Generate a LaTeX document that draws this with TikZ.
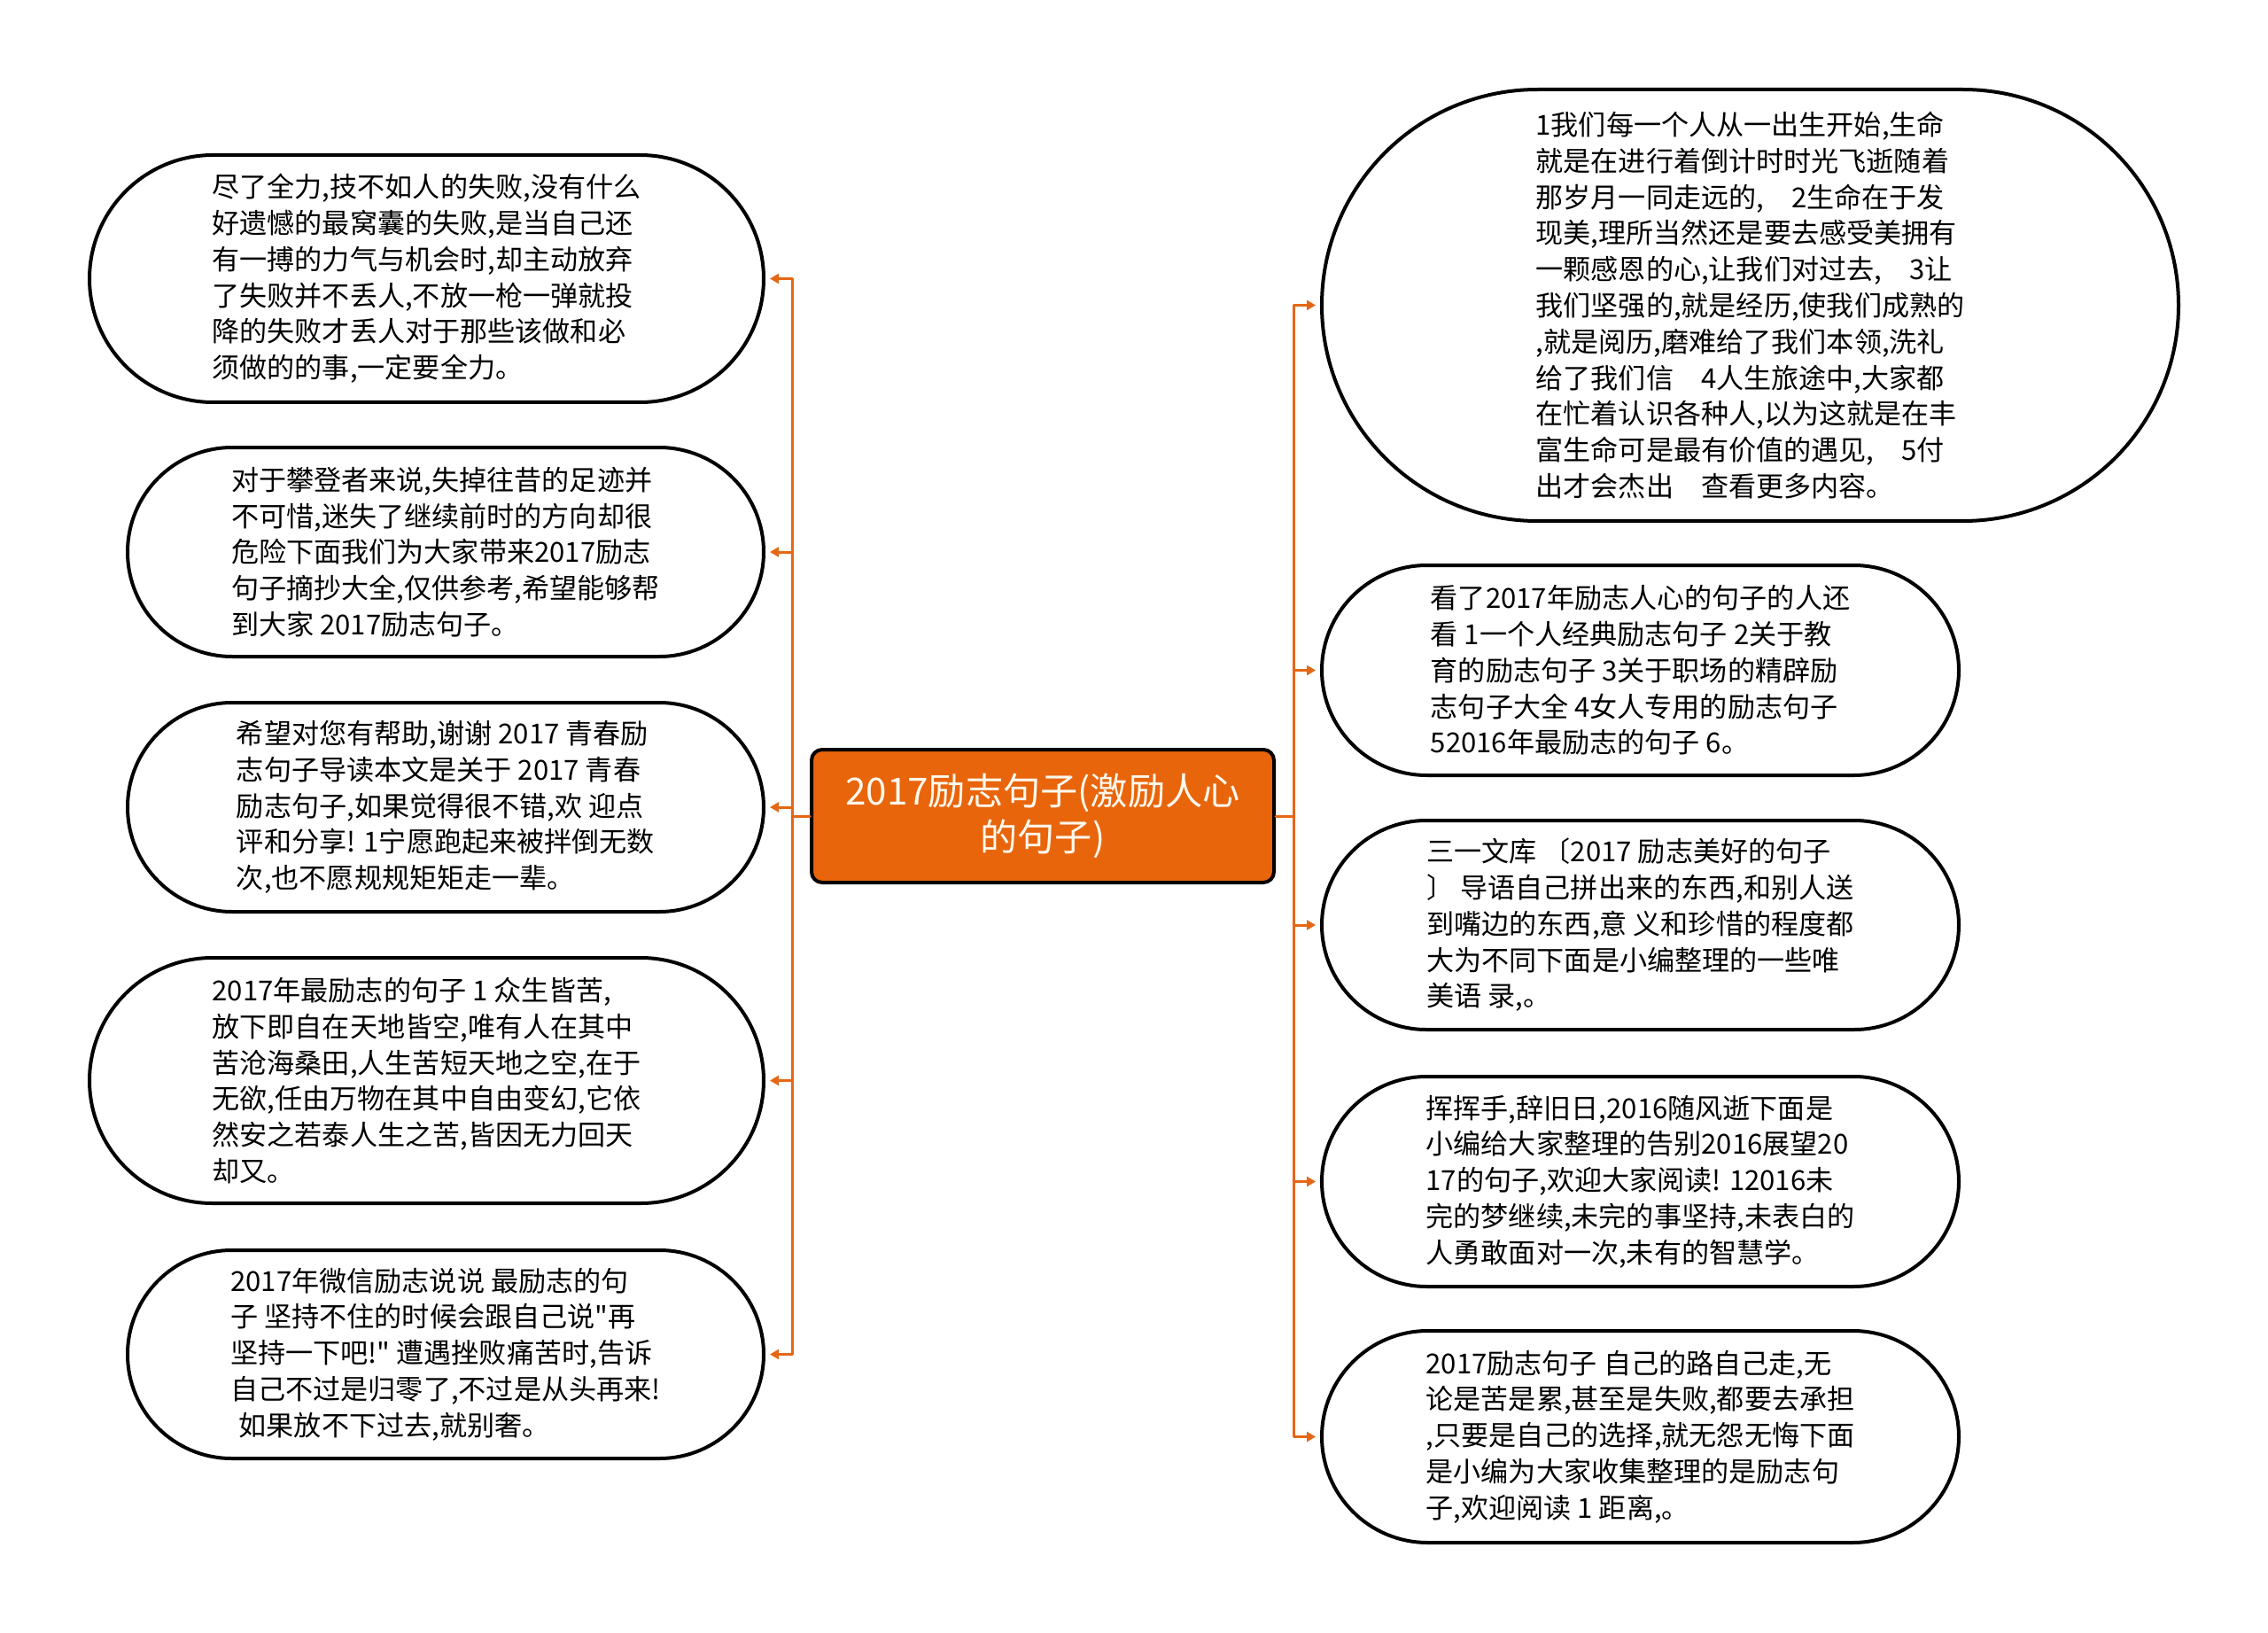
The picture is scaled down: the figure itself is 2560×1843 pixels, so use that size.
\documentclass[tikz,border=0pt]{standalone}
\usepackage{fontspec}
\newfontfamily\cjk{Noto Sans CJK SC}
\usepackage{tikz}
\usetikzlibrary{arrows.meta,shapes.misc}

\definecolor{hubfill}{RGB}{232,101,12}
\definecolor{hubtext}{RGB}{255,248,236}
\definecolor{linkcol}{RGB}{229,103,20}

\begin{document}
\begin{tikzpicture}[x=0.1mm, y=-0.1mm, line cap=round, line join=round,
    >={Triangle[length=1mm,width=1.1mm]},
    leaf/.style={rounded rectangle, draw=black, line width=0.4mm, fill=white,
      align=left, inner sep=0pt, font=\cjk\fontsize{8.85}{11.6}\selectfont},
    hub/.style={rectangle, rounded corners=1.2mm, draw=black, line width=0.4mm,
      fill=hubfill, text=hubtext, align=center,
      minimum width=52.2mm, minimum height=15mm,
      font=\cjk\fontsize{12}{15}\selectfont},
    link/.style={draw=linkcol, line width=0.3mm}]
  % Page frame, same proportions as the reference.
  \useasboundingbox (0,0) rectangle (2560,1843);

  % Central topic.
  \node[hub] (hub) at (1177,921) {2017励志句子(激励人心\\的句子)};

  % Left branch.
  \node[leaf, minimum width=76.1mm, minimum height=27.9mm] (l1) at (481.5,314.5)
    {尽了全力,技不如人的失败,没有什么\\好遗憾的最窝囊的失败,是当自己还\\有一搏的力气与机会时,却主动放弃\\了失败并不丢人,不放一枪一弹就投\\降的失败才丢人对于那些该做和必\\须做的的事,一定要全力。};
  \node[leaf, minimum width=71.8mm, minimum height=23.6mm] (l2) at (503,623)
    {对于攀登者来说,失掉往昔的足迹并\\不可惜,迷失了继续前时的方向却很\\危险下面我们为大家带来2017励志\\句子摘抄大全,仅供参考,希望能够帮\\到大家 2017励志句子。};
  \node[leaf, minimum width=71.8mm, minimum height=23.6mm] (l3) at (503,911)
    {希望对您有帮助,谢谢 2017 青春励\\志句子导读本文是关于 2017 青春\\励志句子,如果觉得很不错,欢 迎点\\评和分享! 1宁愿跑起来被拌倒无数\\次,也不愿规规矩矩走一辈。};
  \node[leaf, minimum width=76.1mm, minimum height=27.7mm] (l4) at (481.5,1219.5)
    {2017年最励志的句子 1 众生皆苦,\\放下即自在天地皆空,唯有人在其中\\苦沧海桑田,人生苦短天地之空,在于\\无欲,任由万物在其中自由变幻,它依\\然安之若泰人生之苦,皆因无力回天\\却又。};
  \node[leaf, minimum width=71.8mm, minimum height=23.5mm] (l5) at (503,1528.5)
    {2017年微信励志说说 最励志的句\\子 坚持不住的时候会跟自己说"再\\坚持一下吧!" 遭遇挫败痛苦时,告诉\\自己不过是归零了,不过是从头再来!\\\hspace*{0.3em}如果放不下过去,就别奢。};

  % Right branch.
  \node[leaf, minimum width=96.7mm, minimum height=48.7mm] (r1) at (1975.5,344.5)
    {1我们每一个人从一出生开始,生命\\就是在进行着倒计时时光飞逝随着\\那岁月一同走远的,　2生命在于发\\现美,理所当然还是要去感受美拥有\\一颗感恩的心,让我们对过去,　3让\\我们坚强的,就是经历,使我们成熟的\\,就是阅历,磨难给了我们本领,洗礼\\给了我们信　4人生旅途中,大家都\\在忙着认识各种人,以为这就是在丰\\富生命可是最有价值的遇见,　5付\\出才会杰出　查看更多内容。};
  \node[leaf, minimum width=71.9mm, minimum height=23.7mm] (r2) at (1851.5,756.5)
    {看了2017年励志人心的句子的人还\\看 1一个人经典励志句子 2关于教\\育的励志句子 3关于职场的精辟励\\志句子大全 4女人专用的励志句子\\52016年最励志的句子 6。};
  \node[leaf, minimum width=71.9mm, minimum height=23.6mm] (r3) at (1851.5,1044)
    {三一文库 〔2017 励志美好的句子\\〕 导语自己拼出来的东西,和别人送\\到嘴边的东西,意 义和珍惜的程度都\\大为不同下面是小编整理的一些唯\\美语 录,。};
  \node[leaf, minimum width=71.9mm, minimum height=23.7mm] (r4) at (1851.5,1333.5)
    {挥挥手,辞旧日,2016随风逝下面是\\小编给大家整理的告别2016展望20\\17的句子,欢迎大家阅读! 12016未\\完的梦继续,未完的事坚持,未表白的\\人勇敢面对一次,未有的智慧学。};
  \node[leaf, minimum width=71.9mm, minimum height=23.9mm] (r5) at (1851.5,1621.5)
    {2017励志句子 自己的路自己走,无\\论是苦是累,甚至是失败,都要去承担\\,只要是自己的选择,就无怨无悔下面\\是小编为大家收集整理的是励志句\\子,欢迎阅读 1 距离,。};

  % Connectors: trunk points beside the hub, then one arrow per leaf.
  \coordinate (ljoint) at ([xshift=-2mm]hub.west);
  \coordinate (rjoint) at ([xshift=2mm]hub.east);
  \draw[link] (hub.west) -- (ljoint);
  \draw[link] (hub.east) -- (rjoint);
  \foreach \n in {l1,l2,l3,l4,l5}
    \draw[link, ->, shorten >=0.5mm] (ljoint) |- (\n.east);
  \foreach \n in {r1,r2,r3,r4,r5}
    \draw[link, ->, shorten >=0.5mm] (rjoint) |- (\n.west);
\end{tikzpicture}
\end{document}
